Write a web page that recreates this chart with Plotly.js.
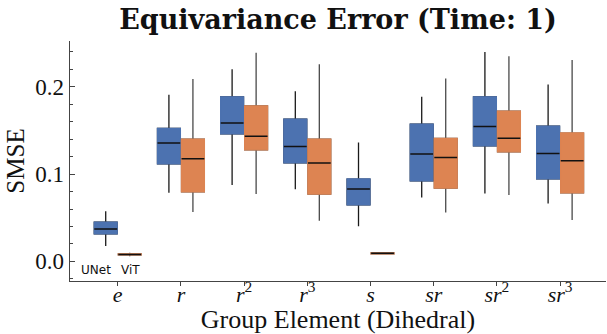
<!DOCTYPE html>
<html>
<head>
<meta charset="utf-8">
<script src="https://cdn.plot.ly/plotly-3.0.1.min.js"></script>
<style>html,body{margin:0;padding:0;background:#fff;}#chart{width:607px;height:334px;}</style>
</head>
<body>
<div id="chart"></div>
<script>
const categories = ['<i>e</i>','<i>r</i>','<i>r</i><sup>2</sup>','<i>r</i><sup>3</sup>','<i>s</i>','<i>sr</i>','<i>sr</i><sup>2</sup>','<i>sr</i><sup>3</sup>'];

const unetLow    = [0.0175, 0.0786, 0.0874, 0.0825, 0.0401, 0.0733, 0.0779, 0.0664];
const unetQ1     = [0.0316, 0.1118, 0.1462, 0.1130, 0.0648, 0.0923, 0.1324, 0.0946];
const unetMedian = [0.0370, 0.1355, 0.1584, 0.1317, 0.0828, 0.1229, 0.1546, 0.1237];
const unetQ3     = [0.0450, 0.1523, 0.1885, 0.1630, 0.0943, 0.1573, 0.1885, 0.1550];
const unetHigh   = [0.0573, 0.1910, 0.2200, 0.1950, 0.1363, 0.1885, 0.2400, 0.2027];

const vitLow     = [0.0060, 0.0565, 0.0771, 0.0465, 0.0080, 0.0561, 0.0759, 0.0473];
const vitQ1      = [0.0075, 0.0797, 0.1278, 0.0771, 0.0087, 0.0840, 0.1255, 0.0786];
const vitMedian  = [0.0080, 0.1175, 0.1435, 0.1126, 0.0092, 0.1191, 0.1412, 0.1152];
const vitQ3      = [0.0085, 0.1400, 0.1780, 0.1400, 0.0097, 0.1409, 0.1722, 0.1470];
const vitHigh    = [0.0098, 0.2090, 0.2390, 0.2260, 0.0105, 0.2096, 0.2350, 0.2306];

const yTickVals = [0.0, 0.1, 0.2];
const yTickText = ['0.0', '0.1', '0.2'];
const modelLabels = ['UNet', 'ViT'];

const BLUE = '#4c72b0', ORANGE = '#dd8452';

function modelTraces(group, color, whiskerColor, lo, q1, med, q3, hi) {
  const base = {type: 'box', x: categories, offsetgroup: group, whiskerwidth: 0,
                boxpoints: false, hoverinfo: 'skip', showlegend: false};
  return [
    Object.assign({}, base, {q1: q1, median: med, q3: q3, lowerfence: lo, upperfence: hi,
      fillcolor: 'rgba(0,0,0,0)', line: {color: whiskerColor, width: 1.3}}),
    Object.assign({}, base, {q1: q1, median: med, q3: q3, lowerfence: q1, upperfence: q3,
      fillcolor: color, line: {color: color, width: 1.4}}),
    Object.assign({}, base, {q1: med, median: med, q3: med, lowerfence: med, upperfence: med,
      fillcolor: 'rgba(0,0,0,0)', line: {color: '#111', width: 1.5}})
  ];
}

const data = [].concat(
  modelTraces('unet', BLUE, '#1a1a1a', unetLow, unetQ1, unetMedian, unetQ3, unetHigh),
  modelTraces('vit', ORANGE, '#4a4a4a', vitLow, vitQ1, vitMedian, vitQ3, vitHigh)
);

const SERIF = 'Liberation Serif';
const AX = '#444';
const xRange = [-0.755, 7.726];
const yRange = [-0.0225, 0.2525];

const layout = {
  width: 607, height: 334,
  margin: {l: 70, r: 1, t: 41, b: 53},
  paper_bgcolor: '#fff', plot_bgcolor: '#fff',
  boxmode: 'group', boxgap: 0.24, boxgroupgap: 0.05,
  showlegend: false,
  title: {text: '<b>Equivariance Error (Time: 1)</b>',
          font: {family: 'DejaVu Serif', size: 27, color: '#111'},
          x: 0.5, xanchor: 'center', xref: 'paper', y: 0.94, yanchor: 'middle'},
  xaxis: {type: 'category', categoryarray: categories, categoryorder: 'array', range: xRange,
          showline: true, linecolor: AX, linewidth: 1.3, ticks: 'outside', ticklen: 4,
          tickcolor: AX, showgrid: false, zeroline: false, ticklabelstandoff: -11,
          tickfont: {family: SERIF, size: 22, color: '#111'},
          title: {text: 'Group Element (Dihedral)', font: {family: SERIF, size: 26, color: '#111'}, standoff: 1}},
  yaxis: {range: yRange, tickvals: yTickVals, ticktext: yTickText, showline: true, linecolor: AX, linewidth: 1.3,
          ticks: 'inside', ticklen: 5, tickcolor: AX, showgrid: false, zeroline: false,
          minor: {dtick: 0.02, tick0: 0, ticks: 'inside', ticklen: 3, tickcolor: AX, showgrid: false},
          tickfont: {family: SERIF, size: 23, color: '#111'},
          title: {text: 'SMSE', font: {family: SERIF, size: 25, color: '#111'}, standoff: 3}},
  xaxis2: {overlaying: 'x', side: 'top', anchor: 'y', range: xRange, tickvals: [0,1,2,3,4,5,6,7],
           showticklabels: false, ticks: 'inside', ticklen: 3, tickcolor: AX,
           showline: true, linecolor: AX, linewidth: 1.3, showgrid: false, zeroline: false},
  yaxis2: {overlaying: 'y', side: 'right', anchor: 'x', range: yRange, tickvals: yTickVals,
           showticklabels: false, ticks: 'inside', ticklen: 5, tickcolor: AX,
           minor: {dtick: 0.02, tick0: 0, ticks: 'inside', ticklen: 3, tickcolor: AX, showgrid: false},
           showline: true, linecolor: AX, linewidth: 1.3, showgrid: false, zeroline: false},
  annotations: [
    {text: modelLabels[0], x: 0, y: -0.01, xref: 'x', yref: 'y', xshift: -22, showarrow: false,
     font: {family: 'DejaVu Sans', size: 12, color: '#111'}},
    {text: modelLabels[1], x: 0, y: -0.01, xref: 'x', yref: 'y', xshift: 13, showarrow: false,
     font: {family: 'DejaVu Sans', size: 12, color: '#111'}}
  ]
};

Plotly.newPlot('chart', data, layout, {staticPlot: true, displayModeBar: false});
</script>
</body>
</html>
